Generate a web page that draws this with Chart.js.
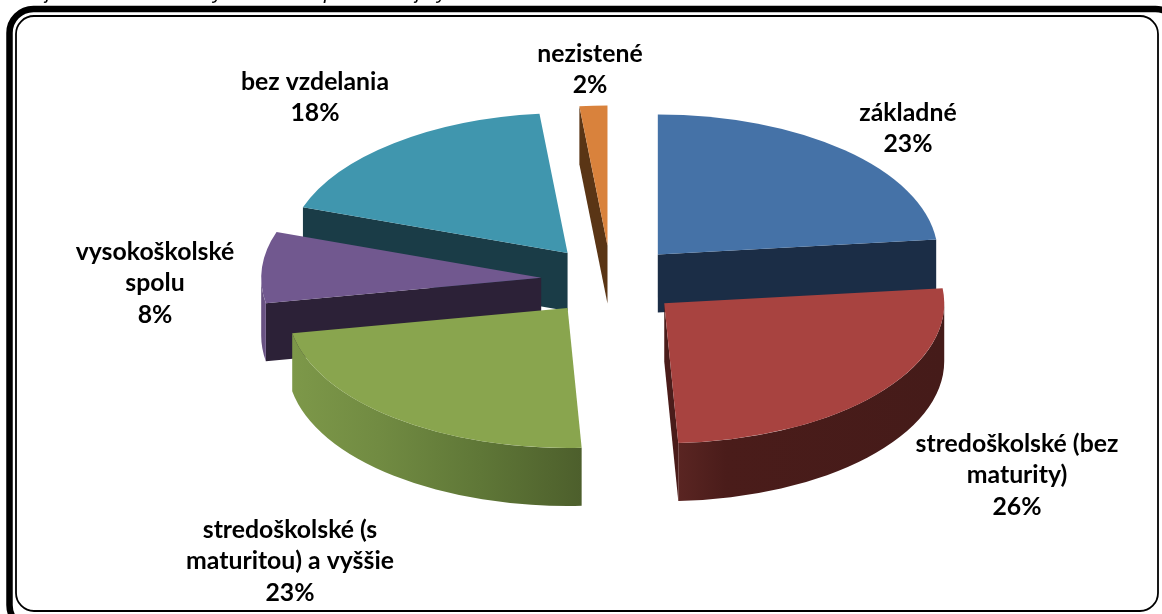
<!DOCTYPE html>
<html><head><meta charset="utf-8">
<style>html,body{margin:0;padding:0;background:#fff}canvas{display:block}</style>
<script src="https://cdn.jsdelivr.net/npm/chart.js@4/dist/chart.umd.js"></script>
</head><body><canvas id="c" width="1162" height="614"></canvas>
<script>
const categories = ['základné','stredoškolské (bez maturity)','stredoškolské (s maturitou) a vyššie','vysokoškolské spolu','bez vzdelania','nezistené'];
const shares = [23.3, 25.9, 22.9, 8.2, 18.1, 1.6];
const percentLabels = ['23%','26%','23%','8%','18%','2%'];
const categoryLines = [['základné'],['stredoškolské (bez','maturity)'],['stredoškolské (s','maturitou) a vyššie'],['vysokoškolské','spolu'],['bez vzdelania'],['nezistené']];

const topColors = ['#4572a7','#a84340','#89a54e','#71588f','#4096ae','#d9823c'];
const faceColors = ['#1b2d46','#4a1c1a','#4d5f2c','#2c2137','#1a3c47','#5a3515'];
const wallStops = [
  null,
  [[0,'#5a2522'],[0.18,'#4a1c1a'],[1,'#451b19']],
  [[0,'#7d9849'],[0.3,'#718b42'],[0.65,'#5f7737'],[1,'#4d5f2c']],
  [[0,'#66507f'],[1,'#6b5486']],
  null, null
];
const labelAnchors = [[908,113],[1017,444],[290,530],[155,252],[315,82],[590,54]];
const drawOrder = [5,0,4,3,2,1];
const VIEW_X = 611, VIEW_Y = 280.5, TILT = 0.5, DEPTH = 58, EXPLODE = 70;
const LINE_H = 31.5;

function roundRect(ctx,x,y,w,h,r){ctx.beginPath();ctx.roundRect(x,y,w,h,r);}

const frame3d = {
  id:'frame3d',
  beforeDraw(chart){
    const ctx = chart.ctx;
    ctx.save();
    ctx.fillStyle='#fff';ctx.fillRect(0,0,1162,614);
    ctx.strokeStyle='#000';
    ctx.lineWidth=6.5;roundRect(ctx,9.5,9,1170,620,24);ctx.stroke();
    ctx.lineWidth=1.8;roundRect(ctx,16,16,1142,595,18);ctx.stroke();
    ctx.fillStyle='#000';ctx.font='italic 20px "Liberation Sans"';ctx.textAlign='left';ctx.textBaseline='alphabetic';
    [['j',46],['y',213],['p',324],['j',416],['y',437]].forEach(([t,x])=>ctx.fillText(t,x,-1));
    ctx.restore();
  },
  beforeDatasetDraw(chart,args){
    const ctx = chart.ctx, meta = args.meta;
    drawOrder.forEach(i=>{
      const el = meta.data[i];
      const p = el.getProps(['x','y','startAngle','endAngle','outerRadius'],true);
      const R = p.outerRadius, ry = R*TILT;
      const mid = (p.startAngle+p.endAngle)/2;
      const ax = VIEW_X+Math.cos(mid)*EXPLODE, ay = VIEW_Y+Math.sin(mid)*EXPLODE*TILT;
      const pt = a=>[ax+Math.cos(a)*R, ay+Math.sin(a)*ry];
      ctx.save();
      const face = a=>{
        const [x,y]=pt(a);
        ctx.fillStyle=faceColors[i];
        ctx.beginPath();ctx.moveTo(ax,ay);ctx.lineTo(x,y);ctx.lineTo(x,y+DEPTH);ctx.lineTo(ax,ay+DEPTH);ctx.closePath();ctx.fill();
      };
      // radial faces that look toward the viewer
      if(p.startAngle>Math.PI/2) face(p.startAngle);
      if(p.endAngle<Math.PI/2) face(p.endAngle);
      // outer wall on the front half
      const a0=Math.max(p.startAngle,0), a1=Math.min(p.endAngle,Math.PI);
      if(a1>a0){
        const xl=ax+Math.cos(a1)*R, xr=ax+Math.cos(a0)*R;
        const g=ctx.createLinearGradient(xl,0,xr,0);
        const st=wallStops[i]||[[0,faceColors[i]],[1,faceColors[i]]];
        st.forEach(s=>g.addColorStop(s[0],s[1]));
        ctx.fillStyle=g;
        ctx.beginPath();
        ctx.ellipse(ax,ay,R,ry,0,a0,a1,false);
        ctx.ellipse(ax,ay+DEPTH,R,ry,0,a1,a0,true);
        ctx.closePath();ctx.fill();
      }
      // top surface drawn by the library's arc element through a tilted, exploded view
      ctx.translate(ax,ay);ctx.scale(1,TILT);ctx.translate(-p.x,-p.y);
      el.draw(ctx,chart.chartArea);
      ctx.restore();
    });
    return false;
  },
  afterDraw(chart){
    const ctx=chart.ctx;
    ctx.save();
    ctx.fillStyle='#000';ctx.font='bold 24.8px Lato';ctx.textAlign='center';ctx.textBaseline='middle';
    categoryLines.forEach((lines,i)=>{
      const [x,y]=labelAnchors[i];
      lines.concat(percentLabels[i]).forEach((t,k)=>ctx.fillText(t,x,y+k*LINE_H));
    });
    ctx.restore();
  }
};

new Chart(document.getElementById('c'),{
  type:'pie',
  data:{labels:categories,datasets:[{data:shares,backgroundColor:topColors,borderWidth:0,offset:0}]},
  options:{responsive:false,animation:false,radius:280,layout:{padding:0},
    plugins:{legend:{display:false},tooltip:{enabled:false},title:{display:false}}},
  plugins:[frame3d]
});
</script></body></html>
